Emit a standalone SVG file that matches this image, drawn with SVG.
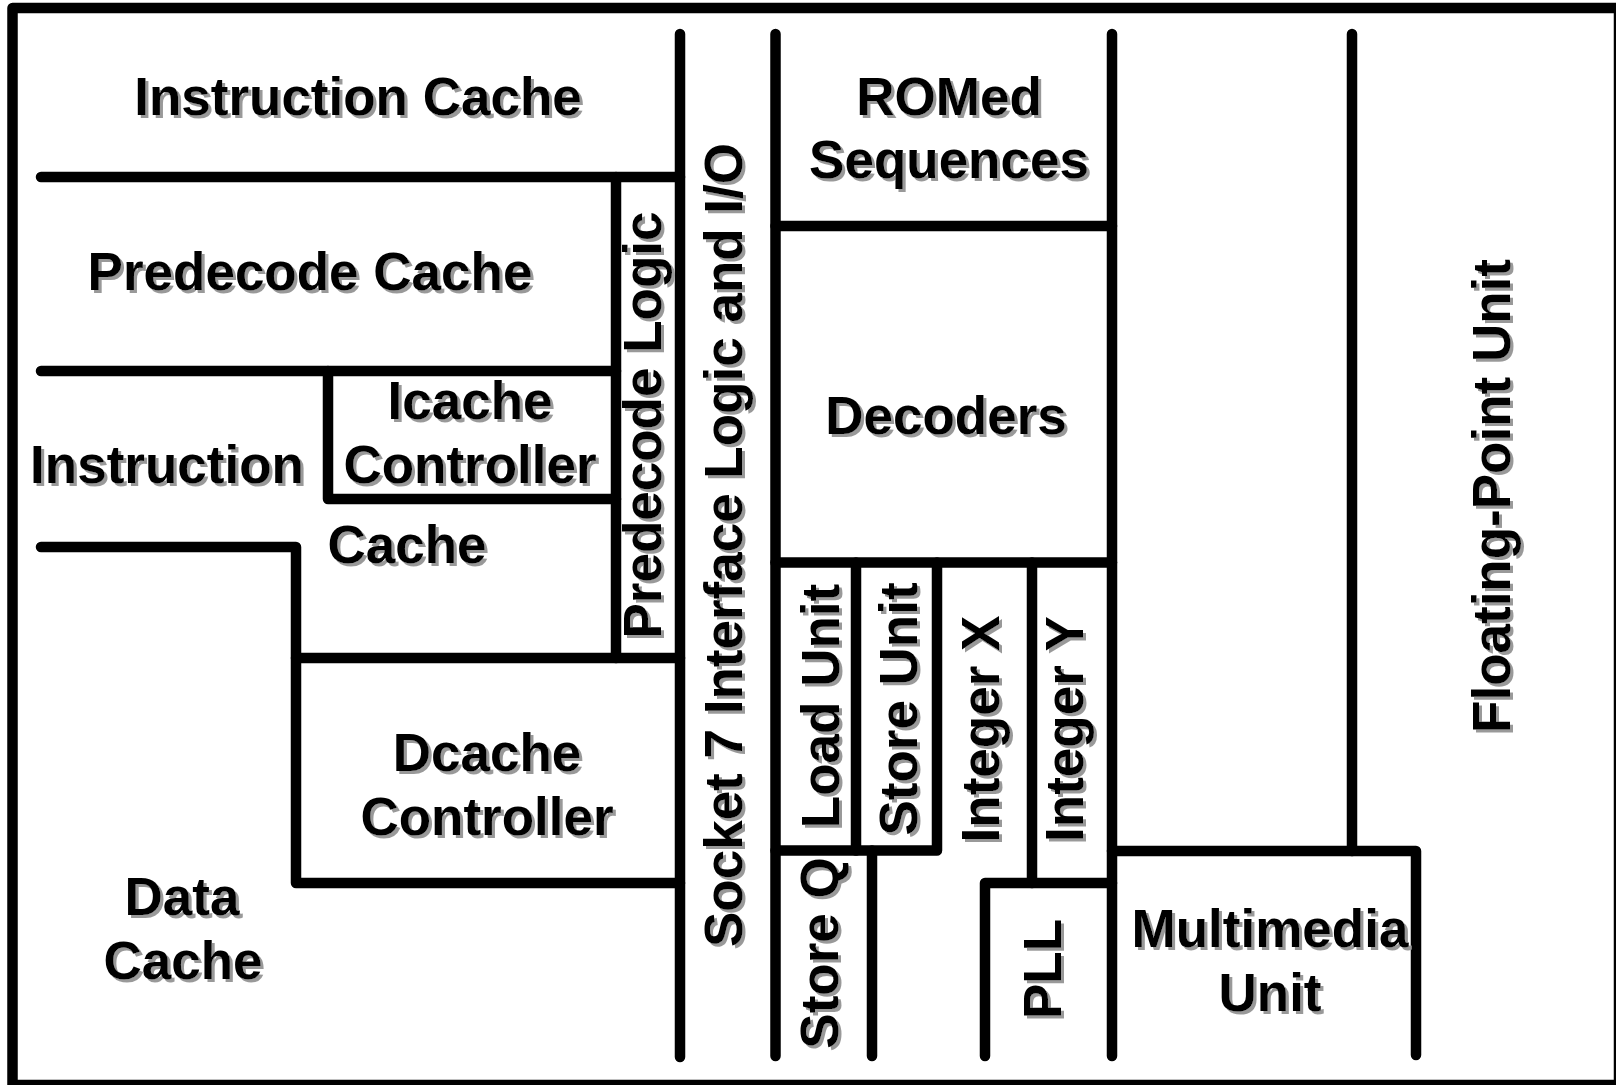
<svg xmlns="http://www.w3.org/2000/svg" width="1616" height="1085" viewBox="0 0 1616 1085">
<style>
.ln{fill:none;stroke:#000;stroke-width:10.5;stroke-linecap:round;stroke-linejoin:round}
.t{font-family:"Liberation Sans",Arial,sans-serif;font-weight:bold;font-size:53px;fill:#000;text-anchor:middle}
</style>
<defs>
<filter id="sh" x="-10%" y="-10%" width="120%" height="120%">
<feDropShadow dx="3" dy="3" stdDeviation="0" flood-color="#999" flood-opacity="1"/>
</filter>
</defs>
<rect width="1616" height="1085" fill="#fff"/>
<g id="connectors">
<rect class="ln" x="12.5" y="8" width="1606.5" height="1077"/>
<line class="ln" x1="680" y1="34" x2="680" y2="1057"/>
<line class="ln" x1="775.5" y1="34" x2="775.5" y2="1056"/>
<line class="ln" x1="1112" y1="34" x2="1112" y2="1056"/>
<line class="ln" x1="1352" y1="34" x2="1352" y2="851"/>
<line class="ln" x1="41" y1="177" x2="680" y2="177"/>
<line class="ln" x1="616" y1="177" x2="616" y2="658"/>
<line class="ln" x1="41" y1="371" x2="616" y2="371"/>
<polyline class="ln" points="328,371 328,499 616,499"/>
<polyline class="ln" points="41,547 296,547 296,883 680,883"/>
<line class="ln" x1="296" y1="658" x2="680" y2="658"/>
<line class="ln" x1="775.5" y1="226" x2="1112" y2="226"/>
<line class="ln" x1="775.5" y1="562.5" x2="1112" y2="562.5"/>
<line class="ln" x1="856" y1="562.5" x2="856" y2="850.5"/>
<polyline class="ln" points="775.5,850.5 937,850.5 937,562.5"/>
<line class="ln" x1="872" y1="850.5" x2="872" y2="1056"/>
<line class="ln" x1="1032" y1="562.5" x2="1032" y2="883"/>
<polyline class="ln" points="985,1056 985,883 1112,883"/>
<polyline class="ln" points="1112,851 1416,851 1416,1055"/>
</g>
<g id="instruction-cache" filter="url(#sh)"><text class="t" x="358" y="115">Instruction Cache</text></g>
<g id="predecode-cache" filter="url(#sh)"><text class="t" x="310" y="290">Predecode Cache</text></g>
<g id="icache-controller" filter="url(#sh)"><text class="t" x="470" y="419">Icache</text><text class="t" x="470" y="483">Controller</text></g>
<g id="instruction-cache-2" filter="url(#sh)"><text class="t" x="167" y="483">Instruction</text><text class="t" x="407" y="563">Cache</text></g>
<g id="dcache-controller" filter="url(#sh)"><text class="t" x="487" y="771">Dcache</text><text class="t" x="487" y="835">Controller</text></g>
<g id="data-cache" filter="url(#sh)"><text class="t" x="182" y="915">Data</text><text class="t" x="183" y="979">Cache</text></g>
<g id="predecode-logic" filter="url(#sh)"><text class="t" transform="translate(661,425) rotate(-90)">Predecode Logic</text></g>
<g id="socket7" filter="url(#sh)"><text class="t" transform="translate(742,545) rotate(-90)">Socket 7 Interface Logic and I/O</text></g>
<g id="romed-sequences" filter="url(#sh)"><text class="t" x="949" y="115">ROMed</text><text class="t" x="949" y="178">Sequences</text></g>
<g id="decoders" filter="url(#sh)"><text class="t" x="946" y="434">Decoders</text></g>
<g id="load-unit" filter="url(#sh)"><text class="t" transform="translate(839,706) rotate(-90)">Load Unit</text></g>
<g id="store-unit" filter="url(#sh)"><text class="t" transform="translate(917,709) rotate(-90)">Store Unit</text></g>
<g id="integer-x" filter="url(#sh)"><text class="t" transform="translate(999,729) rotate(-90)">Integer X</text></g>
<g id="integer-y" filter="url(#sh)"><text class="t" transform="translate(1083,729) rotate(-90)">Integer Y</text></g>
<g id="store-q" filter="url(#sh)"><text class="t" transform="translate(838,953) rotate(-90)">Store Q</text></g>
<g id="pll" filter="url(#sh)"><text class="t" transform="translate(1061,969) rotate(-90)">PLL</text></g>
<g id="multimedia-unit" filter="url(#sh)"><text class="t" x="1270" y="947">Multimedia</text><text class="t" x="1270" y="1011">Unit</text></g>
<g id="fpu" filter="url(#sh)"><text class="t" transform="translate(1510,496) rotate(-90)">Floating-Point Unit</text></g>
</svg>
